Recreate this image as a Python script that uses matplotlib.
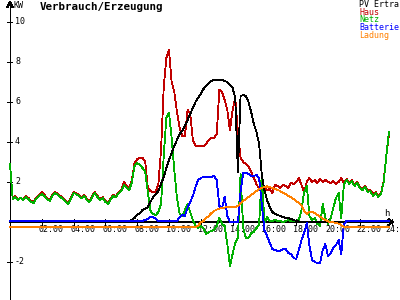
import numpy as np
import matplotlib
matplotlib.use("Agg")
import matplotlib.pyplot as plt

# ---- data: 10-minute samples from 00:00 to 23:50 (kW) ----
pv_ertrag = [
    0, 0, 0, 0, 0, 0,
    0, 0, 0, 0, 0, 0,
    0, 0, 0, 0, 0, 0,
    0, 0, 0, 0, 0, 0,
    0, 0, 0, 0, 0, 0,
    0, 0, 0, 0, 0, 0,
    0, 0, 0, 0, 0, 0,
    0, 0, 0, 0.05, 0.12, 0.2,
    0.35, 0.45, 0.6, 0.65, 0.75, 1.0,
    1.25, 1.4, 1.55, 1.9, 2.25, 2.7,
    3.1, 3.45, 3.8, 4.1, 4.4, 4.55,
    4.8, 5.1, 5.4, 5.7, 6.0, 6.2,
    6.4, 6.65, 6.8, 6.95, 7.05, 7.1,
    7.12, 7.12, 7.12, 7.05, 7.0, 6.85,
    6.7, 6.2, 2.5, 6.3, 6.35, 6.3,
    6.0, 5.5, 4.9, 4.5, 3.9, 2.4,
    1.6, 1.1, 0.75, 0.5, 0.4, 0.35,
    0.3, 0.25, 0.2, 0.2, 0.15, 0.1,
    0.05, 0.02, 0, 0, 0, 0,
    0, 0, 0, 0, 0, 0,
    0, 0, 0, 0, 0, 0,
    0, 0, 0, 0, 0, 0,
    0, 0, 0, 0, 0, 0,
    0, 0, 0, 0, 0, 0,
]

haus = [
    2.9, 1.2, 1.3, 1.1, 1.2, 1.15,
    1.3, 1.2, 1.05, 1.0, 1.25, 1.35,
    1.5, 1.35, 1.2, 1.1, 1.35, 1.5,
    1.4, 1.3, 1.2, 1.05, 0.95, 1.2,
    1.5, 1.45, 1.35, 1.25, 1.35, 1.15,
    1.05, 1.3, 1.5, 1.3, 1.15, 1.25,
    1.05, 0.95, 1.2, 1.35, 1.3, 1.5,
    1.6, 2.0, 1.8, 1.65, 2.1, 2.95,
    3.15, 3.2, 3.2, 3.05, 1.7, 1.55,
    1.5, 1.5, 1.9, 3.6, 6.7, 8.2,
    8.6, 7.0, 6.5, 5.5, 4.7, 4.3,
    4.3, 5.6, 5.4, 4.1, 3.8, 3.8,
    3.8, 3.8, 3.9, 4.1, 4.2, 4.2,
    4.4, 6.6, 6.5, 6.1, 5.6, 4.6,
    5.6, 6.2, 4.5, 3.2, 3.0, 2.9,
    2.8, 2.5, 2.2, 1.9, 1.65, 1.7,
    1.75, 1.6, 1.65, 1.45, 1.85, 1.8,
    1.7, 1.85, 1.8, 1.7, 1.95, 1.9,
    2.0, 2.2, 1.85, 1.5, 2.0, 2.2,
    2.0, 2.1, 1.95, 2.15, 2.0, 2.1,
    2.0, 1.95, 2.05, 1.9, 2.0, 2.2,
    1.95, 2.15, 1.95, 2.1, 1.85, 2.0,
    1.75, 1.65, 1.8, 1.6, 1.6, 1.4,
    1.5, 1.3, 1.45, 2.05, 3.3, 4.4,
]

netz = [
    2.9, 1.15, 1.25, 1.1, 1.2, 1.1,
    1.25, 1.15, 1.0, 0.95, 1.2, 1.3,
    1.4, 1.3, 1.15, 1.05, 1.3, 1.45,
    1.35, 1.25, 1.15, 1.0, 0.9, 1.15,
    1.45, 1.4, 1.3, 1.2, 1.3, 1.1,
    1.0, 1.25, 1.45, 1.25, 1.1, 1.2,
    1.0, 0.9, 1.15, 1.3, 1.25, 1.45,
    1.55, 1.85, 1.7, 1.6, 2.0, 2.8,
    2.95, 2.85, 2.7, 2.55, 1.5, 0.55,
    0.4, 0.35, 0.5, 0.9, 3.3, 5.2,
    5.45, 4.2, 2.6, 1.2, 0.4, 0.3,
    0.6, 0.9, 0.5, 0.1, -0.2, -0.3,
    -0.2, -0.3, -0.6, -0.5, -0.45, -0.4,
    -0.2, 0.2, -0.1, -0.2, -1.1, -2.2,
    -1.6, -1.05, -0.8, 2.4, -0.3, -0.8,
    -0.8, -0.55, -0.5, -0.3, -0.15, 2.4,
    -0.05, 0.25, 0.05, 0.05, 0.1, 0.05,
    0.05, 0.0, 0.05, 0.1, 0.05, 0.05,
    0.05, 0.1, 0.6, 1.5, 1.8, 0.3,
    0.1, 0.2, -0.1, -0.2, 0.9, 0.2,
    -0.1, 0.2, 0.7, 1.2, 1.45, 0.2,
    1.9, 2.1, 1.9, 2.05, 1.8, 1.95,
    1.7, 1.6, 1.75, 1.5, 1.55, 1.3,
    1.45, 1.25, 1.4, 2.0, 3.3, 4.5,
]

batterie = [
    0.05, 0.05, 0.05, 0.05, 0.05, 0.05,
    0.05, 0.05, 0.05, 0.05, 0.05, 0.05,
    0.05, 0.05, 0.05, 0.05, 0.05, 0.05,
    0.05, 0.05, 0.05, 0.05, 0.05, 0.05,
    0.05, 0.05, 0.05, 0.05, 0.05, 0.05,
    0.05, 0.05, 0.05, 0.05, 0.05, 0.05,
    0.05, 0.05, 0.05, 0.05, 0.05, 0.05,
    0.05, 0.05, 0.05, 0.05, 0.05, 0.05,
    0.05, 0.05, 0.05, 0.1, 0.15, 0.25,
    0.25, 0.15, 0.05, 0.05, 0.05, 0.05,
    0.05, 0.05, 0.05, 0.05, 0.25, 0.35,
    0.3, 0.7, 1.0, 1.3, 1.75, 2.1,
    2.2, 2.25, 2.25, 2.25, 2.25, 2.3,
    2.1, 0.8, 0.7, 1.25, 0.3, 0.0,
    0.0, 0.0, 0.0, 1.5, 2.45, 2.45,
    2.4, 2.3, 2.3, 2.35, 2.2, 0.9,
    -0.4, -0.7, -1.05, -1.35, -1.4, -1.45,
    -1.45, -1.35, -1.35, -1.55, -1.6, -1.8,
    -1.85, -1.4, -0.9, -0.55, -0.05, -1.2,
    -1.9, -2.0, -2.05, -2.05, -1.4, -1.1,
    -1.7, -1.55, -1.3, -1.15, -0.9, -1.6,
    -0.1, 0.05, 0.05, 0.05, 0.05, 0.05,
    0.05, 0.05, 0.05, 0.05, 0.05, 0.05,
    0.05, 0.05, 0.05, 0.05, 0.05, 0.05,
]

ladung = [
    -0.27, -0.27, -0.27, -0.27, -0.27, -0.27,
    -0.27, -0.27, -0.27, -0.27, -0.27, -0.27,
    -0.27, -0.27, -0.27, -0.27, -0.27, -0.27,
    -0.27, -0.27, -0.27, -0.27, -0.27, -0.27,
    -0.27, -0.27, -0.27, -0.27, -0.27, -0.27,
    -0.27, -0.27, -0.27, -0.27, -0.27, -0.27,
    -0.27, -0.27, -0.27, -0.27, -0.27, -0.27,
    -0.27, -0.27, -0.27, -0.27, -0.27, -0.27,
    -0.27, -0.27, -0.27, -0.27, -0.27, -0.27,
    -0.27, -0.27, -0.27, -0.27, -0.27, -0.27,
    -0.27, -0.27, -0.27, -0.27, -0.27, -0.27,
    -0.27, -0.27, -0.27, -0.27, -0.25, -0.18,
    -0.02, 0.05, 0.2, 0.3, 0.45, 0.55,
    0.62, 0.67, 0.7, 0.72, 0.75, 0.75,
    0.75, 0.75, 0.8, 0.95, 1.05, 1.15,
    1.25, 1.35, 1.45, 1.55, 1.65, 1.7,
    1.75, 1.78, 1.75, 1.7, 1.65, 1.6,
    1.55, 1.45, 1.4, 1.3, 1.25, 1.15,
    1.05, 0.95, 0.85, 0.55, 0.4, 0.5,
    0.5, 0.45, 0.35, 0.27, 0.18, 0.1,
    0.03, 0.0, -0.02, -0.05, -0.08, -0.15,
    -0.25, -0.27, -0.27, -0.27, -0.27, -0.27,
    -0.27, -0.27, -0.27, -0.27, -0.27, -0.27,
    -0.27, -0.27, -0.27, -0.27, -0.27, -0.27,
]

x_tick_hours = [2, 4, 6, 8, 10, 12, 14, 16, 18, 20, 22, 24]
x_tick_labels = ["02:00", "04:00", "06:00", "08:00", "10:00", "12:00",
                 "14:00", "16:00", "18:00", "20:00", "22:00", "24:"]
y_ticks = [10, 8, 6, 4, 2, -2]
series_names = ["PV Ertra", "Haus", "Netz", "Batterie", "Ladung"]
series_colors = ["#000000", "#c00000", "#00b000", "#0000ff", "#ff8000"]

hours = np.arange(len(pv_ertrag)) / 6.0

# ---- figure ----
W, H = 400, 300
fig = plt.figure(figsize=(4, 3), dpi=100)
fig.patch.set_facecolor("white")
ax = fig.add_axes([0, 0, 1, 1])
PXH = 15.9   # pixels per hour
PXV = 20.0   # pixels per kW
X0, Y0 = 10, 222
ax.set_xlim(-X0 / PXH, (W - X0) / PXH)
ax.set_ylim(-(H - Y0) / PXV, Y0 / PXV)
ax.axis("off")

def px(dx):
    return dx / PXH

def pv_(dy):
    return dy / PXV

mono = "DejaVu Sans Mono"

# axes lines
ax.plot([0, 24.1], [0, 0], color="black", lw=1.4, solid_capstyle="butt",
        antialiased=False, zorder=3)
ax.plot([0, 0], [-(H - Y0) / PXV, pv_(Y0 - 2)], color="black", lw=0.7,
        antialiased=False, zorder=3)
# arrow heads
ax.plot([px(-2.5), 0, px(2.5)], [pv_(Y0 - 7), pv_(Y0 - 2), pv_(Y0 - 7)],
        color="black", lw=0.7, antialiased=False, zorder=3)
ax.plot([24 - px(3), 24 + px(1.5), 24 - px(3)], [pv_(3), 0, pv_(-3)],
        color="black", lw=0.7, antialiased=False, zorder=3)

# y ticks
for v in y_ticks:
    ax.plot([px(-3), px(2)], [v, v], color="black", lw=0.7, antialiased=False, zorder=3)
    ax.text(px(5), v, str(v), fontsize=6, family=mono, ha="left", va="center")
# x ticks
for h, lab in zip(x_tick_hours, x_tick_labels):
    ax.plot([h, h], [pv_(3), pv_(-3)], color="black", lw=0.7, antialiased=False, zorder=3)
    x_left = min(h - px(3), px(W - X0 - 15))
    ax.text(x_left, pv_(-7), lab, fontsize=6, family=mono, ha="left", va="center")

# series
series = [haus, netz, pv_ertrag, batterie, ladung]
colors = [series_colors[1], series_colors[2], series_colors[0], series_colors[3], series_colors[4]]
for s, c in zip(series, colors):
    ax.plot(hours, s, color=c, lw=0.6, antialiased=False, zorder=4)

# texts
fig.text(13 / W, 1 - 5 / H, "KW", fontsize=6, family=mono, ha="left", va="center")
fig.text(384 / W, 1 - 213 / H, "h", fontsize=6.5, family=mono, ha="left", va="center")
fig.text(40 / W, 1 - 7.5 / H, "Verbrauch/Erzeugung", fontsize=7.8, family=mono,
         fontweight="bold", ha="left", va="center")
for i, (name, col) in enumerate(zip(series_names, series_colors)):
    fig.text(359 / W, 1 - (4.5 + 7.75 * i) / H, name, fontsize=6, family=mono,
             color=col, ha="left", va="center")

fig.savefig("out.png", dpi=100)
